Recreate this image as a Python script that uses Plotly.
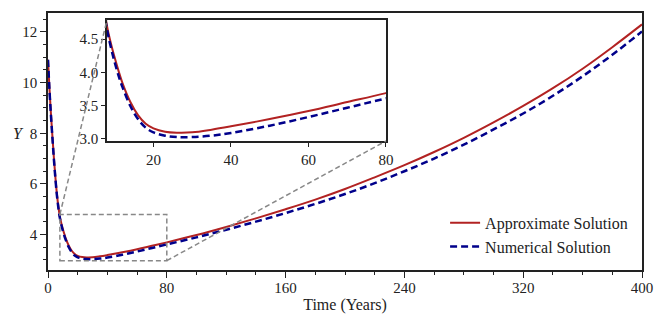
import plotly.graph_objects as go

# ── data ────────────────────────────────────────────────
t = [0, 1, 2, 3, 4, 5, 6, 7, 8, 9, 10, 11, 12, 14, 16, 18, 20, 23, 26, 30,
     35, 40, 50, 60, 70, 80, 100, 120, 140, 160, 180, 200, 220, 240, 260,
     280, 300, 320, 340, 360, 380, 400]
approx = [10.9, 9.75, 8.75, 7.85, 7.0, 6.25, 5.6, 5.1, 4.7, 4.44, 4.22, 4.02,
          3.84, 3.56, 3.36, 3.23, 3.16, 3.11, 3.095, 3.10, 3.14, 3.19, 3.30,
          3.42, 3.555, 3.69, 3.98, 4.30, 4.64, 5.00, 5.38, 5.80, 6.26, 6.74,
          7.26, 7.82, 8.43, 9.08, 9.78, 10.55, 11.40, 12.30]
numerical = [10.9, 9.7, 8.7, 7.8, 6.95, 6.2, 5.55, 5.05, 4.65, 4.38, 4.15,
             3.95, 3.78, 3.50, 3.30, 3.17, 3.10, 3.05, 3.03, 3.03, 3.05, 3.09,
             3.20, 3.33, 3.47, 3.61, 3.89, 4.19, 4.51, 4.85, 5.21, 5.60, 6.03,
             6.50, 7.00, 7.55, 8.15, 8.78, 9.48, 10.25, 11.10, 12.02]

x_ticks = [0, 80, 160, 240, 320, 400]
y_ticks = [4, 6, 8, 10, 12]
inset_x_ticks = [20, 40, 60, 80]
inset_y_ticks = [3.0, 3.5, 4.0, 4.5]

MAIN_X = [0, 400]
MAIN_Y = [2.6, 12.75]
INSET_X = [8, 80]
INSET_Y = [2.97, 4.79]
INSET_DOM_X = [0.0993, 0.569]
INSET_DOM_Y = [0.502, 0.973]

RED = '#b22222'
BLUE = '#00008b'
FONT = 'Liberation Serif'
INK = '#222222'


def to_paper(v, rng, dom=(0, 1)):
    '''data → paper coords'''
    return dom[0] + (v - rng[0]) / (rng[1] - rng[0]) * (dom[1] - dom[0])


fig = go.Figure()
for xa, ya, show in [('x', 'y', True), ('x2', 'y2', False)]:
    fig.add_trace(go.Scatter(
        x=t, y=approx, mode='lines', name='Approximate Solution',
        line=dict(color=RED, width=2, shape='spline'),
        xaxis=xa, yaxis=ya, showlegend=show))
    fig.add_trace(go.Scatter(
        x=t, y=numerical, mode='lines', name='Numerical Solution',
        line=dict(color=BLUE, width=2.5, dash='7px,4px', shape='spline'),
        xaxis=xa, yaxis=ya, showlegend=show))

# zoom box + connectors
fig.add_shape(type='rect', xref='x', yref='y',
              x0=INSET_X[0], x1=INSET_X[1], y0=INSET_Y[0], y1=INSET_Y[1],
              line=dict(color='#888888', width=1.5, dash='5px,3px'))
for (mx, my), (px, py) in [((INSET_X[0], INSET_Y[1]), (INSET_DOM_X[0], INSET_DOM_Y[1])),
                           ((INSET_X[1], INSET_Y[0]), (INSET_DOM_X[1], INSET_DOM_Y[0]))]:
    fig.add_shape(type='line', xref='paper', yref='paper',
                  x0=to_paper(mx, MAIN_X), y0=to_paper(my, MAIN_Y), x1=px, y1=py,
                  line=dict(color='#888888', width=1.5, dash='5px,3px'))

fig.add_annotation(text='<i>Y</i>', xref='paper', yref='paper',
                   x=-0.063, y=0.533, showarrow=False,
                   font=dict(family=FONT, size=16, color=INK))

axis_common = dict(showline=True, linecolor=INK, linewidth=1.5, mirror=True,
                   ticks='outside', tickcolor=INK, showgrid=False, zeroline=False)

# page body has an 8px margin, so the figure is 8px smaller than the window
fig.update_layout(
    width=657, height=319, margin=dict(l=40, r=23, t=3, b=57),
    plot_bgcolor='white', paper_bgcolor='white',
    font=dict(family=FONT, size=15, color=INK),
    xaxis=dict(range=MAIN_X, tickvals=x_ticks, ticklen=6, tickwidth=1.2,
               ticklabelstandoff=-3,
               minor=dict(dtick=20, ticklen=3, tickcolor=INK, ticks='outside'),
               title=dict(text='Time (Years)', standoff=4, font=dict(size=16)),
               **axis_common),
    yaxis=dict(range=MAIN_Y, tickvals=y_ticks, ticklen=6, tickwidth=1.2,
               minor=dict(dtick=0.5, ticklen=3, tickcolor=INK, ticks='outside'),
               **axis_common),
    xaxis2=dict(domain=INSET_DOM_X, anchor='y2', range=INSET_X,
                tickvals=inset_x_ticks, ticklen=4, **axis_common),
    yaxis2=dict(domain=INSET_DOM_Y, anchor='x2', range=INSET_Y,
                tickvals=inset_y_ticks, tickformat='.1f', ticklen=4, **axis_common),
    legend=dict(x=0.985, xanchor='right', y=0.25, yanchor='top',
                bgcolor='rgba(0,0,0,0)', font=dict(size=16)),
)

fig.write_html('out.html')
